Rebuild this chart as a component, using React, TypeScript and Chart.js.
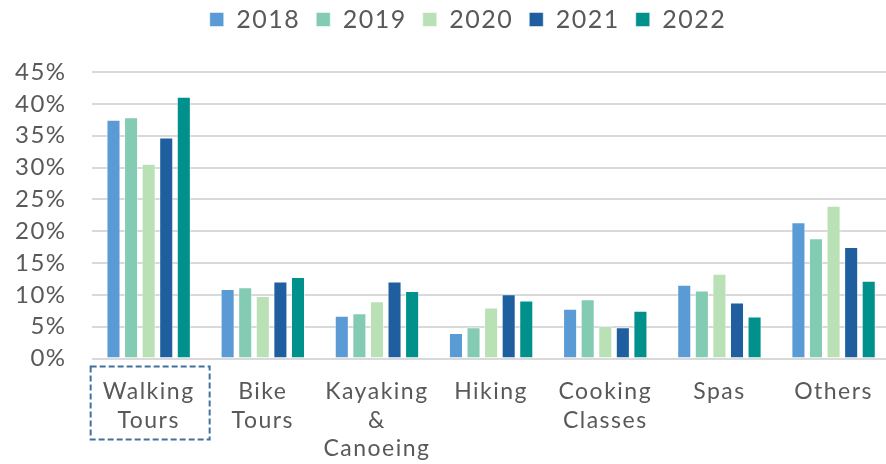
import React, { useEffect, useRef } from "react";
import { Chart, registerables } from "chart.js";

Chart.register(...registerables);

const categories: (string | string[])[] = [
  ["Walking", "Tours"],
  ["Bike", "Tours"],
  ["Kayaking", "&", "Canoeing"],
  "Hiking",
  ["Cooking", "Classes"],
  "Spas",
  "Others",
];
const years = ["2018", "2019", "2020", "2021", "2022"];
const v2018 = [37.5, 10.9, 6.7, 4.0, 7.8, 11.6, 21.4];
const v2019 = [37.9, 11.2, 7.1, 4.9, 9.3, 10.7, 18.9];
const v2020 = [30.6, 9.8, 9.0, 8.0, 5.1, 13.3, 24.0];
const v2021 = [34.7, 12.1, 12.1, 10.1, 4.9, 8.8, 17.5];
const v2022 = [41.1, 12.8, 10.6, 9.1, 7.5, 6.6, 12.2];
const seriesValues = [v2018, v2019, v2020, v2021, v2022];
const colors = ["#5B9BD5", "#84CBB3", "#BAE1B6", "#1F5FA0", "#00918D"];
const yMax = 45;
const yStep = 5;
const highlightedIndex = 0;

const FONT = "Lato, 'Open Sans', sans-serif";
const TEXT = "#595959";

const spacingPlugin = {
  id: "spacing",
  beforeUpdate(chart: any) {
    chart.ctx.letterSpacing = "1.5px";
  },
  beforeDraw(chart: any) {
    chart.ctx.letterSpacing = "1.5px";
  },
};

const legendShift = {
  id: "legendShift",
  afterLayout(chart: any) {
    if (chart.legend) {
      chart.legend.left += 54;
      chart.legend.top -= 30;
    }
  },
};

const highlightBox = {
  id: "highlightBox",
  afterDraw(chart: any) {
    const x = chart.scales.x;
    const cx = x.getPixelForValue(highlightedIndex);
    const bottom = chart.chartArea.bottom;
    const ctx = chart.ctx;
    ctx.save();
    ctx.strokeStyle = "#41719C";
    ctx.lineWidth = 2;
    ctx.setLineDash([6, 3]);
    ctx.strokeRect(cx - 58, bottom + 8, 119, 73);
    ctx.restore();
  },
};

export default function App() {
  const ref = useRef<HTMLCanvasElement | null>(null);

  useEffect(() => {
    document.body.style.margin = "0";
    if (!ref.current) return;
    const chart = new Chart(ref.current, {
      type: "bar",
      data: {
        labels: categories,
        datasets: years.map((y, i) => ({
          label: y,
          data: seriesValues[i],
          backgroundColor: colors[i],
          borderColor: "rgba(255,255,255,0.5)",
          borderWidth: 1,
          categoryPercentage: 0.77,
          barPercentage: 0.8,
        })),
      },
      options: {
        animation: false,
        responsive: false,
        devicePixelRatio: 1,
        layout: { padding: { left: -10, right: 0, top: 21, bottom: -18 } },
        plugins: {
          tooltip: { enabled: false },
          legend: {
            position: "top",
            labels: {
              boxWidth: 14,
              boxHeight: 14,
              padding: 16,
              color: TEXT,
              font: { family: FONT, size: 25 },
            },
          },
        },
        scales: {
          x: {
            grid: { display: false, drawTicks: false },
            border: { display: false },
            ticks: {
              color: TEXT,
              font: { family: FONT, size: 23, lineHeight: "28.5px" as any },
              padding: 19,
              maxRotation: 0,
              autoSkip: false,
            },
          },
          y: {
            min: 0,
            max: yMax,
            grid: { color: "#D9D9D9", lineWidth: 2, drawTicks: false },
            border: { display: false },
            ticks: {
              stepSize: yStep,
              autoSkip: false,
              color: TEXT,
              padding: 25,
              font: { family: FONT, size: 24 },
              callback: (v: any) => `${v}%`,
            },
          },
        },
      },
      plugins: [spacingPlugin, legendShift, highlightBox],
    });
    return () => chart.destroy();
  }, []);

  return (
    <div style={{ width: 886, height: 464, overflow: "hidden", position: "relative", background: "#fff" }}>
      <canvas ref={ref} width={892} height={464} style={{ display: "block" }} />
    </div>
  );
}
